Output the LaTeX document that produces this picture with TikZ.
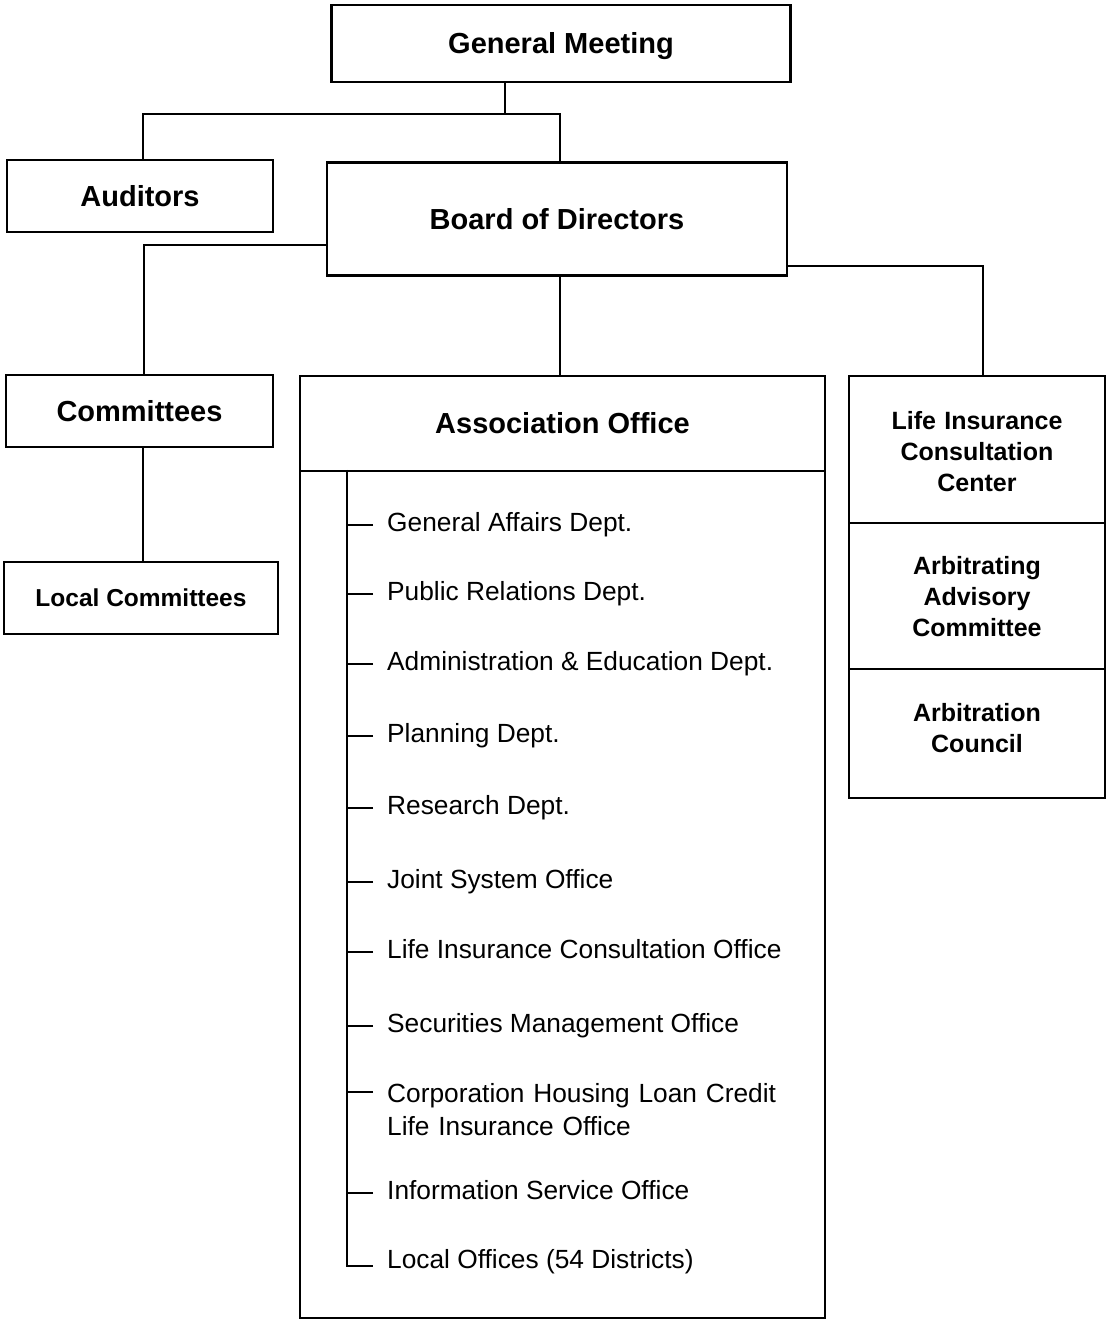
\documentclass[tikz,border=0pt]{standalone}
\usepackage{fontspec}
\setmainfont{Liberation Sans}
\begin{document}
\begin{tikzpicture}[x=1pt,y=-1pt,
  box/.style={draw, line width=2.4pt, inner sep=0pt, align=center,
    font=\bfseries\fontsize{29}{34}\selectfont, text height=20.8pt, text depth=0pt},
  smallbox/.style={box, font=\bfseries\fontsize{24.5}{30}\selectfont, text height=17.5pt},
  stackbox/.style={draw, line width=2.4pt, inner sep=0pt, align=center, text width=250pt,
    font=\bfseries\fontsize{25}{31}\selectfont, text height=17.9pt},
  item/.style={anchor=base west, inner sep=0pt, font=\fontsize{26.3}{32}\selectfont},
  conn/.style={line width=2.3pt},
  spine/.style={line width=2pt}]
\useasboundingbox (0,0) rectangle (1106,1320);

% boxes
\node[box, minimum width=459pt, minimum height=77pt]  (gm)    at (561,43.5)  {General Meeting};
\node[box, minimum width=266pt, minimum height=72pt]  (aud)   at (140,196)   {Auditors};
\node[box, minimum width=460pt, minimum height=113pt] (board) at (557,219)   {Board of Directors};
\node[box, minimum width=267pt, minimum height=72pt]  (comm)  at (139.5,411) {Committees};
\node[smallbox, minimum width=274pt, minimum height=72pt] (lcomm) at (141,598) {Local Committees};
\node[box, minimum width=525pt, minimum height=95pt]  (asshead) at (562.5,423.5) {Association Office};
\node[draw, line width=2.4pt, inner sep=0pt, minimum width=525pt, minimum height=847pt] (assbody) at (562.5,894.5) {};
\node[stackbox, minimum width=256pt, minimum height=147pt, text height=21.5pt, text depth=62pt] (lic) at (977,449.5) {Life Insurance\\Consultation\\Center};
\node[stackbox, minimum width=256pt, minimum height=146pt, text height=19.9pt, text depth=62pt] (aac) at (977,596) {Arbitrating\\Advisory\\Committee};
\node[stackbox, minimum width=256pt, minimum height=129pt, text depth=41pt] (ac)  at (977,733.5) {Arbitration\\Council};

% connectors
\coordinate (gmj)  at (505,114);
\coordinate (audj) at (143,114);
\coordinate (brdj) at (560,114);
\draw[conn] (gm.south -| gmj) -- (gmj);
\draw[conn] (aud.north -| audj) -- (audj) -- (brdj) -- (board.north -| brdj);
\coordinate (cj) at (144,245);
\draw[conn] (board.west |- cj) -- (cj) -- (comm.north -| cj);
\draw[conn] (board.south -| brdj) -- (asshead.north -| brdj);
\coordinate (lj) at (983,266);
\draw[conn] (board.east |- lj) -- (lj) -- (lic.north -| lj);
\coordinate (lcj) at (143,500);
\draw[conn] (comm.south -| lcj) -- (lcomm.north -| lcj);

% department list
\foreach \nm/\bl/\tx in {
  i1/531.7/General Affairs Dept.,
  i2/600.7/Public Relations Dept.,
  i3/670/Administration \& Education Dept.,
  i4/742.7/Planning Dept.,
  i5/814/Research Dept.,
  i6/888/Joint System Office,
  i7/958/Life Insurance Consultation Office,
  i8/1032.7/Securities Management Office,
  i10/1199/Information Service Office}{
  \node[item] (\nm) at (387,\bl) {\tx};
  \draw[spine] (\nm.base west) ++(-14,-6.5) -- ++(-26,0);
}
\node[item, text width=420pt, align=left, font=\fontsize{26.3}{32.3}\selectfont] (i9) at (387,1102.7) {Corporation Housing Loan Credit\\Life Insurance Office};
\draw[spine] (i9.base west) ++(-14,-10.5) -- ++(-26,0);
\node[item] (i11) at (387,1268) {Local Offices (54 Districts)};
\coordinate (spbot) at (347,1266);
\draw[spine] (assbody.north -| spbot) -- (spbot) -- ++(26,0);
\end{tikzpicture}
\end{document}
